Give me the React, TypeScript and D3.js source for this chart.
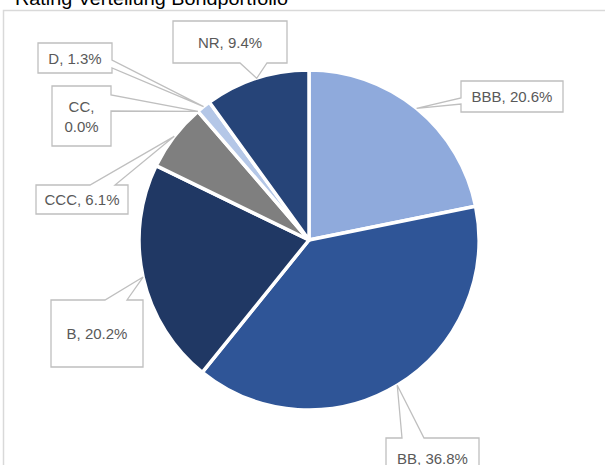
import React from "react";
import * as d3 from "d3";

const categories = ["BBB", "BB", "B", "CCC", "CC", "D", "NR"];
const values = [20.6, 36.8, 20.2, 6.1, 0.0, 1.3, 9.4];
const labels = ["BBB, 20.6%", "BB, 36.8%", "B, 20.2%", "CCC, 6.1%", "CC,|0.0%", "D, 1.3%", "NR, 9.4%"];
const colors = ["#8FAADC", "#2F5597", "#203864", "#7F7F7F", "#A5A5A5", "#B4C7E7", "#264478"];
const title = "Rating Verteilung Bondportfolio";

type Box = { x: number; y: number; w: number; h: number; side: "top" | "bottom" | "left" | "right"; a: number; b: number };
// callout boxes (layout)
const boxes: Box[] = [
  { x: 461, y: 81, w: 102, h: 31, side: "left", a: 98, b: 104 },
  { x: 386, y: 438, w: 93, h: 40, side: "top", a: 402, b: 424 },
  { x: 51, y: 300, w: 92, h: 67, side: "top", a: 105, b: 127 },
  { x: 36, y: 185, w: 92, h: 29, side: "top", a: 90, b: 115 },
  { x: 52, y: 86, w: 59, h: 60, side: "right", a: 95, b: 111 },
  { x: 38, y: 43, w: 74, h: 30, side: "right", a: 60, b: 68 },
  { x: 173, y: 21, w: 114, h: 42, side: "bottom", a: 240, b: 267 },
];

function calloutPath(bx: Box, tx: number, ty: number) {
  const { x, y, w, h, side, a, b } = bx;
  const p: [number, number][] = [];
  p.push([x, y]);
  if (side === "top") { p.push([a, y], [tx, ty], [b, y]); }
  p.push([x + w, y]);
  if (side === "right") { p.push([x + w, a], [tx, ty], [x + w, b]); }
  p.push([x + w, y + h]);
  if (side === "bottom") { p.push([b, y + h], [tx, ty], [a, y + h]); }
  p.push([x, y + h]);
  if (side === "left") { p.push([x, b], [tx, ty], [x, a]); }
  return "M" + p.map((q) => q.join(",")).join("L") + "Z";
}

export default function App() {
  const W = 605, H = 465;
  const cx = 309, cy = 240, r = 170;
  const pie = d3.pie<number>().sort(null).value((d) => d);
  const arcs = pie(values);
  const arc = d3.arc<d3.PieArcDatum<number>>().innerRadius(0).outerRadius(r);
  const edge = d3.arc<d3.PieArcDatum<number>>().innerRadius(r).outerRadius(r);

  return (
    <svg width={W} height={H} style={{ position: "absolute", left: 0, top: 0, background: "#fff" }}
      fontFamily="'Liberation Sans', Arial, sans-serif">
      <rect x={0} y={0} width={W} height={H} fill="#fff" />
      <text x={15} y={5} fontSize={18.5} fill="#000" textLength={273} lengthAdjust="spacingAndGlyphs">{title}</text>
      <path d={`M3.5,${H}V10.5H${W}`} fill="none" stroke="#D9D9D9" strokeWidth={1.5} />
      <g transform={`translate(${cx},${cy})`}>
        {arcs.map((a, i) =>
          a.value > 0 ? (
            <path key={categories[i]} d={arc(a) || ""} fill={colors[i]} stroke="#fff" strokeWidth={3.5} strokeLinejoin="round" />
          ) : null
        )}
      </g>
      {arcs.map((a, i) => {
        const c = edge.centroid(a);
        const tx = cx + c[0], ty = cy + c[1];
        const bx = boxes[i];
        const lines = labels[i].split("|");
        const mid = bx.y + bx.h / 2;
        return (
          <g key={"l" + categories[i]}>
            <path d={calloutPath(bx, tx, ty)} fill="#fff" stroke="#BFBFBF" strokeWidth={1.3} />
            {lines.map((t, j) => (
              <text key={j} x={bx.x + bx.w / 2} y={mid + (j - (lines.length - 1) / 2) * 20} textAnchor="middle"
                dominantBaseline="central" fontSize={15} fill="#595959">{t}</text>
            ))}
          </g>
        );
      })}
    </svg>
  );
}
